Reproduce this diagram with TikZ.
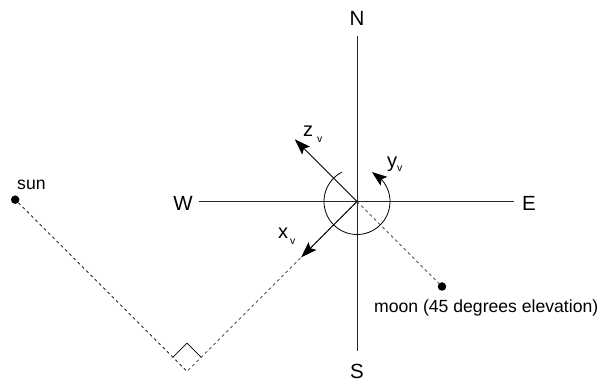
\documentclass[tikz,border=0pt]{standalone}
\usepackage{fontspec}
\setmainfont{Liberation Sans}
\usetikzlibrary{arrows.meta,bending,calc}
\newcommand{\bigfnt}{\fontsize{20.5}{24}\selectfont}
\newcommand{\lblfnt}{\fontsize{20}{24}\selectfont}
\newcommand{\subfnt}{\fontsize{10.5}{12}\selectfont}
\newcommand{\smallfnt}{\fontsize{17.6}{21}\selectfont}
\tikzset{
  axis/.style={line width=0.9pt, black!85},
  guide/.style={line width=0.7pt, dash pattern=on 3pt off 3pt},
  vec/.style={line width=0.9pt, -{Stealth[length=16pt,width=11pt,inset=3pt]}},
  compass/.style={inner sep=0pt, font=\bigfnt},
  lbl/.style={inner sep=0pt, anchor=base west, font=\lblfnt},
  dot/.style={circle, fill=black, inner sep=0pt, minimum size=8.5pt},
  note/.style={inner sep=0pt, anchor=base west, font=\smallfnt}
}
\begin{document}
\begin{tikzpicture}[x=1pt,y=1pt]
\useasboundingbox (0,0) rectangle (603,381);
% key points
\coordinate (C) at (357,179.5);
\coordinate (K) at ($(C)+(225:240.4)$);
\coordinate (m1) at ($(K)+(135:20)$);
\coordinate (m2) at ($(K)+(90:28.28)$);
\coordinate (m3) at ($(K)+(45:20)$);
\coordinate (nEnd) at (357,345);
\coordinate (sEnd) at (357,30);
\coordinate (wEnd) at (199,179.5);
\coordinate (eEnd) at (514,179.5);
\coordinate (ztip) at ($(C)+(135:88)$);
\coordinate (xtip) at ($(C)+(225:79)$);
% compass letters
\node[compass] (N) at (357,362.5) {N};
\node[compass] (S) at (357,10) {S};
\node[compass] (W) at (183,178) {W};
\node[compass] (E) at (529,178) {E};
% sun and moon
\node[dot] (sun) at ($(K)+(135:243)$) {};
\node[dot] (moon) at ($(C)+(-45:120.2)$) {};
\node[note] (sunlbl) at (17,191) {sun};
\node[note] (moonlbl) at (374,68.3) {moon (45 degrees elevation)};
% dashed guides
\draw[guide] (sun) -- (K) -- (C);
\draw[guide] (C) -- (moon);
% right-angle marker
\draw[line width=0.7pt] (m1) -- (m2) -- (m3);
% axes
\draw[axis] (nEnd) -- (sEnd);
\draw[axis] (wEnd) -- (eEnd);
% rotation arc
\draw[line width=0.8pt, -{Stealth[length=15pt,width=11pt,inset=3pt,flex]}] ($(C)+(117:33)$) arc[start angle=117,end angle=423,radius=33];
% vectors
\draw[vec] (C) -- (ztip);
\draw[vec] (C) -- (xtip);
% labels
\node[lbl] (zl) at (303,244) {z\kern4pt\raisebox{-6pt}{\subfnt v}};
\node[lbl] (yl) at (387,213.5) {y\kern0pt\raisebox{-4.5pt}{\subfnt v}};
\node[lbl] (xl) at (278,143) {x\kern2pt\raisebox{-7pt}{\subfnt v}};
\end{tikzpicture}
\end{document}
